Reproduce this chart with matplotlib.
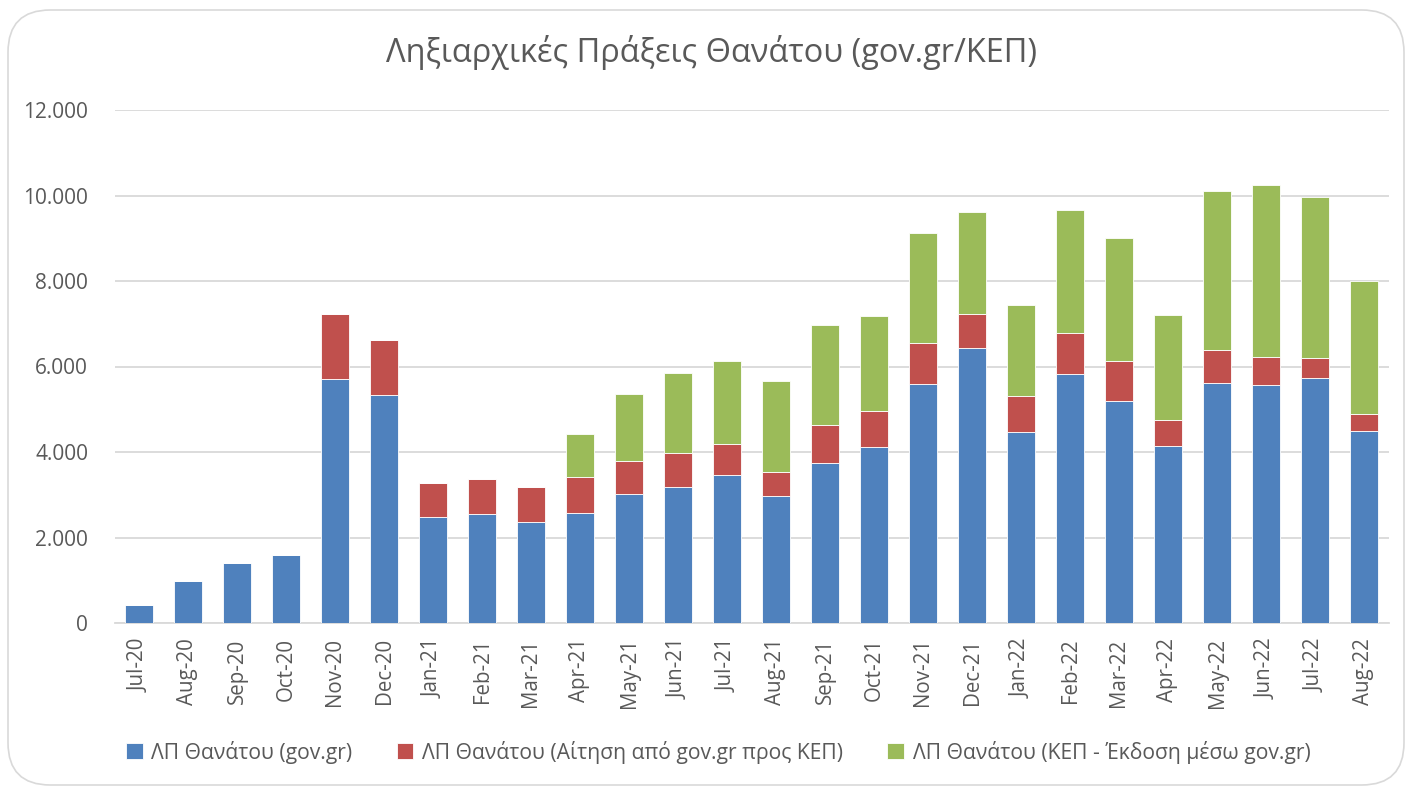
import matplotlib
matplotlib.use("Agg")
import matplotlib.pyplot as plt
from matplotlib.patches import FancyBboxPatch
from matplotlib.ticker import FuncFormatter, MultipleLocator
import numpy as np

months = ["Jul-20", "Aug-20", "Sep-20", "Oct-20", "Nov-20", "Dec-20",
          "Jan-21", "Feb-21", "Mar-21", "Apr-21", "May-21", "Jun-21",
          "Jul-21", "Aug-21", "Sep-21", "Oct-21", "Nov-21", "Dec-21",
          "Jan-22", "Feb-22", "Mar-22", "Apr-22", "May-22", "Jun-22",
          "Jul-22", "Aug-22"]

gov = [420, 980, 1400, 1590, 5710, 5330,
       2480, 2550, 2360, 2570, 3010, 3180,
       3460, 2970, 3740, 4120, 5590, 6430,
       4470, 5830, 5190, 4140, 5610, 5570,
       5730, 4490]
kep_req = [0, 0, 0, 0, 1520, 1290,
           800, 820, 820, 840, 780, 800,
           730, 560, 890, 840, 960, 800,
           840, 960, 940, 610, 780, 650,
           470, 400]
kep_issue = [0, 0, 0, 0, 0, 0,
             0, 0, 0, 1010, 1570, 1870,
             1940, 2130, 2340, 2220, 2570, 2390,
             2130, 2880, 2880, 2460, 3720, 4020,
             3770, 3110]

series_labels = ["ΛΠ Θανάτου (gov.gr)",
                 "ΛΠ Θανάτου (Αίτηση από gov.gr προς ΚΕΠ)",
                 "ΛΠ Θανάτου (ΚΕΠ - Έκδοση μέσω gov.gr)"]
title = "Ληξιαρχικές Πράξεις Θανάτου (gov.gr/ΚΕΠ)"

colors = ["#4F81BD", "#C0504D", "#9BBB59"]
text_color = "#595959"

plt.rcParams['font.family'] = ['Open Sans', 'DejaVu Sans']

fig = plt.figure(figsize=(14.1, 7.87), dpi=100)
# rounded border
border = FancyBboxPatch((8 / 1410, 2 / 787), 1396 / 1410, 775 / 787,
                        boxstyle="round,pad=0,rounding_size=0.03",
                        transform=fig.transFigure, facecolor="none",
                        edgecolor="#D9D9D9", linewidth=1.2, zorder=-1,
                        mutation_aspect=1410 / 787)
fig.patches.append(border)

ax = fig.add_axes([114.5 / 1410, 1 - 623 / 787, 1274 / 1410, 513 / 787])
ax.set_facecolor("none")

n = len(gov)
x = np.arange(n)
gov_a = np.array(gov, dtype=float)
req_a = np.array(kep_req, dtype=float)
iss_a = np.array(kep_issue, dtype=float)
w = 0.57
ax.bar(x, gov_a, w, color=colors[0], label=series_labels[0],
       edgecolor="white", linewidth=0.6, zorder=3)
ax.bar(x, req_a, w, bottom=gov_a, color=colors[1], label=series_labels[1],
       edgecolor="white", linewidth=0.6, zorder=3)
ax.bar(x, iss_a, w, bottom=gov_a + req_a, color=colors[2], label=series_labels[2],
       edgecolor="white", linewidth=0.6, zorder=3)

ax.set_xlim(-0.5, n - 0.5)
ax.set_ylim(0, 12000)
ax.yaxis.set_major_locator(MultipleLocator(2000))
ax.yaxis.set_major_formatter(FuncFormatter(lambda v, p: f"{int(v):,}".replace(",", ".")))
ax.grid(axis="y", color="#D9D9D9", linewidth=1.3, zorder=0)
ax.set_axisbelow(True)
for s in ["top", "right", "left"]:
    ax.spines[s].set_visible(False)
ax.spines["bottom"].set_color("#D9D9D9")
ax.spines["bottom"].set_linewidth(1.3)

ax.set_xticks(x)
ax.set_xticklabels(months, rotation=90, fontsize=14.8, color=text_color)
ax.tick_params(axis="x", length=0, pad=11)
ax.tick_params(axis="y", length=0, pad=19, labelsize=15, labelcolor=text_color)

fig.text(712 / 1410, 1 - 52 / 787, title, ha="center", va="center",
         fontsize=23.4, color=text_color)

handles, labels = ax.get_legend_handles_labels()
leg = fig.legend(handles, labels, loc="center", bbox_to_anchor=(718 / 1410, 1 - 752 / 787),
                 ncol=3, frameon=False, fontsize=15.2, labelcolor=text_color,
                 handlelength=0.8, handleheight=0.8, handletextpad=0.4,
                 columnspacing=2.1)

fig.savefig("out.png", dpi=100)
